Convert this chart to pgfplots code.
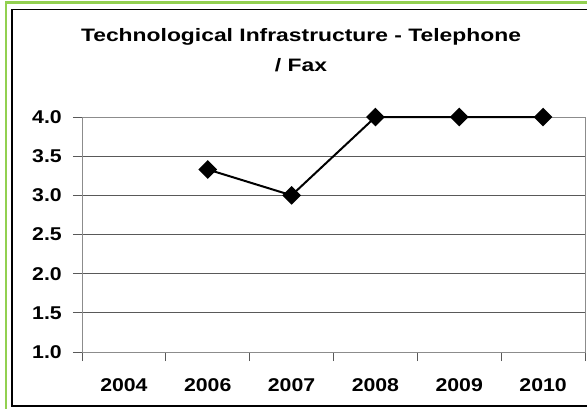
\documentclass[border=0pt]{standalone}
\usepackage{fontspec}
\setmainfont[FakeStretch=1.15]{Liberation Sans}
\newfontfamily\titlefont[FakeStretch=1.27]{Liberation Sans}
\usepackage{pgfplots}
\pgfplotsset{compat=1.18}
\definecolor{frgreen}{HTML}{92D050}
\begin{document}
\begin{tikzpicture}
\useasboundingbox (0pt,0pt) rectangle (587pt,408pt);
\fill[white] (0pt,0pt) rectangle (587pt,408pt);
\draw[frgreen, line width=2.4pt] (5.8pt,-5pt) -- (5.8pt,405.3pt) -- (600pt,405.3pt);
\draw[black, line width=1.2pt] (600pt,2pt) -- (12pt,2pt) -- (12pt,398.3pt) -- (600pt,398.3pt);
\node[anchor=base, font=\titlefont\bfseries\fontsize{18}{21}\selectfont, inner sep=0pt] at (301pt,366pt) {Technological Infrastructure - Telephone};
\node[anchor=base, font=\titlefont\bfseries\fontsize{18}{21}\selectfont, inner sep=0pt] at (301pt,336pt) {/ Fax};
\begin{axis}[
  at={(82pt,56pt)}, anchor=south west,
  scale only axis, width=503pt, height=235pt,
  xmin=-0.5, xmax=5.5, ymin=1, ymax=4,
  xtick={-0.5,0.5,1.5,2.5,3.5,4.5,5.5},
  x tick label as interval,
  xticklabels={2004,2006,2007,2008,2009,2010},
  ytick={1,1.5,2,2.5,3,3.5,4},
  ymajorgrids,
  grid style={black!65, line width=0.8pt},
  axis line style={black!45, line width=0.9pt},
  tick style={black!65, line width=0.9pt},
  tick align=outside,
  major tick length=9pt,
  xtick pos=bottom, ytick pos=left,
  /pgf/number format/assume math mode=true,
  yticklabel={\pgfmathprintnumber[fixed, fixed zerofill, precision=1]{\tick}},
  ticklabel style={font=\bfseries\fontsize{18.5}{21}\selectfont},
  yticklabel style={anchor=east, inner sep=0pt, xshift=-11pt},
  xticklabel style={anchor=base, inner sep=0pt, yshift=-30pt},
  clip=false,
]
\addplot[black, line width=2pt, mark=square*, mark size=5.6pt, mark options={rotate=45, solid}]
  coordinates {(1,3.33) (2,3.0) (3,4.0) (4,4.0) (5,4.0)};
\end{axis}
\end{tikzpicture}
\end{document}
